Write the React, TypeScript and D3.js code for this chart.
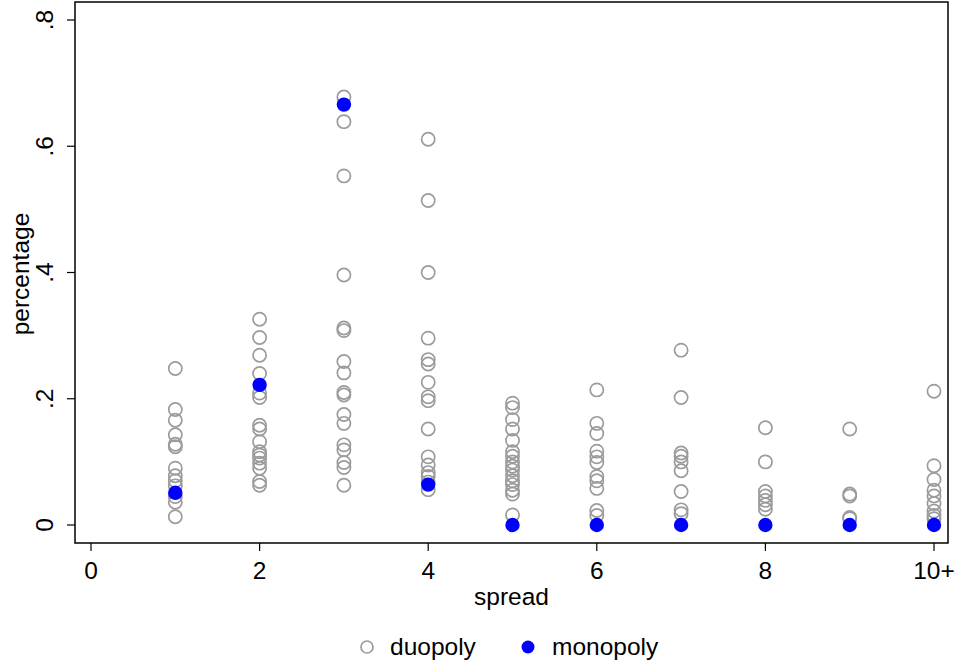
import React from "react";
import * as d3 from "d3";

const spreadCategories = [1, 2, 3, 4, 5, 6, 7, 8, 9, 10];
const xTickValues = [0, 2, 4, 6, 8, 10];
const xTickLabels = ["0", "2", "4", "6", "8", "10+"];
const yTickValues = [0, 0.2, 0.4, 0.6, 0.8];
const yTickLabels = ["0", ".2", ".4", ".6", ".8"];

const duopoly1 = [0.248, 0.183, 0.166, 0.143, 0.128, 0.124, 0.09, 0.078, 0.07, 0.062, 0.045, 0.036, 0.013];
const duopoly2 = [0.326, 0.297, 0.269, 0.24, 0.209, 0.202, 0.158, 0.152, 0.132, 0.116, 0.111, 0.106, 0.098, 0.09, 0.069, 0.063];
const duopoly3 = [0.678, 0.639, 0.553, 0.396, 0.312, 0.308, 0.259, 0.241, 0.21, 0.206, 0.175, 0.161, 0.127, 0.119, 0.099, 0.091, 0.063];
const duopoly4 = [0.611, 0.514, 0.4, 0.296, 0.262, 0.255, 0.226, 0.203, 0.197, 0.152, 0.108, 0.095, 0.083, 0.077, 0.068, 0.056];
const duopoly5 = [0.193, 0.186, 0.167, 0.152, 0.134, 0.116, 0.109, 0.1, 0.093, 0.087, 0.078, 0.07, 0.064, 0.055, 0.049, 0.016];
const duopoly6 = [0.214, 0.161, 0.145, 0.117, 0.108, 0.099, 0.077, 0.07, 0.058, 0.023, 0.015];
const duopoly7 = [0.277, 0.202, 0.114, 0.109, 0.1, 0.086, 0.053, 0.024, 0.018];
const duopoly8 = [0.154, 0.1, 0.053, 0.046, 0.039, 0.032, 0.025];
const duopoly9 = [0.152, 0.049, 0.046, 0.012, 0.01];
const duopoly10 = [0.212, 0.094, 0.072, 0.055, 0.046, 0.034, 0.022, 0.015, 0.01];
const duopolySeries = [duopoly1, duopoly2, duopoly3, duopoly4, duopoly5, duopoly6, duopoly7, duopoly8, duopoly9, duopoly10];

const monopolyValues = [0.051, 0.222, 0.666, 0.064, 0, 0, 0, 0, 0, 0];

const W = 959;
const H = 664;
const frame = { left: 75, right: 948, top: 2, bottom: 543 };
const FONT = "'Liberation Sans', Arial, Helvetica, sans-serif";
const FS = 24.5;

export default function App() {
  const x = d3.scaleLinear().domain([0, 10]).range([91, 934]);
  const y = d3.scaleLinear().domain([0, 0.8]).range([525, 20]);

  const duoPoints = duopolySeries.flatMap((vals, i) =>
    vals.map((v) => ({ sx: spreadCategories[i], v }))
  );
  const monoPoints = monopolyValues.map((v, i) => ({ sx: spreadCategories[i], v }));

  return (
    <svg
      width={W}
      height={H}
      style={{ position: "absolute", left: 0, top: 0, background: "#fff" }}
      fontFamily={FONT}
    >
      <rect x={0} y={0} width={W} height={H} fill="#fff" />
      {duoPoints.map((p, i) => (
        <circle
          key={"d" + i}
          cx={x(p.sx)}
          cy={y(p.v)}
          r={6.6}
          fill="none"
          stroke="#9b9b9b"
          strokeWidth={1.7}
        />
      ))}
      {monoPoints.map((p, i) => (
        <circle key={"m" + i} cx={x(p.sx)} cy={y(p.v)} r={7.2} fill="#0000ff" />
      ))}
      <rect
        x={frame.left}
        y={frame.top}
        width={frame.right - frame.left}
        height={frame.bottom - frame.top}
        fill="none"
        stroke="#000"
        strokeWidth={1.5}
      />
      {xTickValues.map((t, i) => (
        <g key={"xt" + i}>
          <line x1={x(t)} x2={x(t)} y1={frame.bottom} y2={frame.bottom + 8} stroke="#000" strokeWidth={1.2} />
          <text x={x(t)} y={frame.bottom + 36} textAnchor="middle" fontSize={FS} fill="#000">
            {xTickLabels[i]}
          </text>
        </g>
      ))}
      <text x={(frame.left + frame.right) / 2} y={605} textAnchor="middle" fontSize={FS} fill="#000">
        spread
      </text>
      {yTickValues.map((t, i) => (
        <g key={"yt" + i}>
          <line x1={frame.left - 8} x2={frame.left} y1={y(t)} y2={y(t)} stroke="#000" strokeWidth={1.2} />
          <text
            transform={`translate(${frame.left - 22},${y(t)}) rotate(-90)`}
            textAnchor="middle"
            fontSize={FS}
            fill="#000"
          >
            {yTickLabels[i]}
          </text>
        </g>
      ))}
      <text
        transform={`translate(29,${274}) rotate(-90)`}
        textAnchor="middle"
        fontSize={FS}
        fill="#000"
      >
        percentage
      </text>
      <circle cx={367} cy={647} r={6} fill="none" stroke="#9b9b9b" strokeWidth={1.7} />
      <text x={390} y={655} fontSize={FS} fill="#000">duopoly</text>
      <circle cx={528} cy={647} r={6.5} fill="#0000ff" />
      <text x={552} y={655} fontSize={FS} fill="#000">monopoly</text>
    </svg>
  );
}
